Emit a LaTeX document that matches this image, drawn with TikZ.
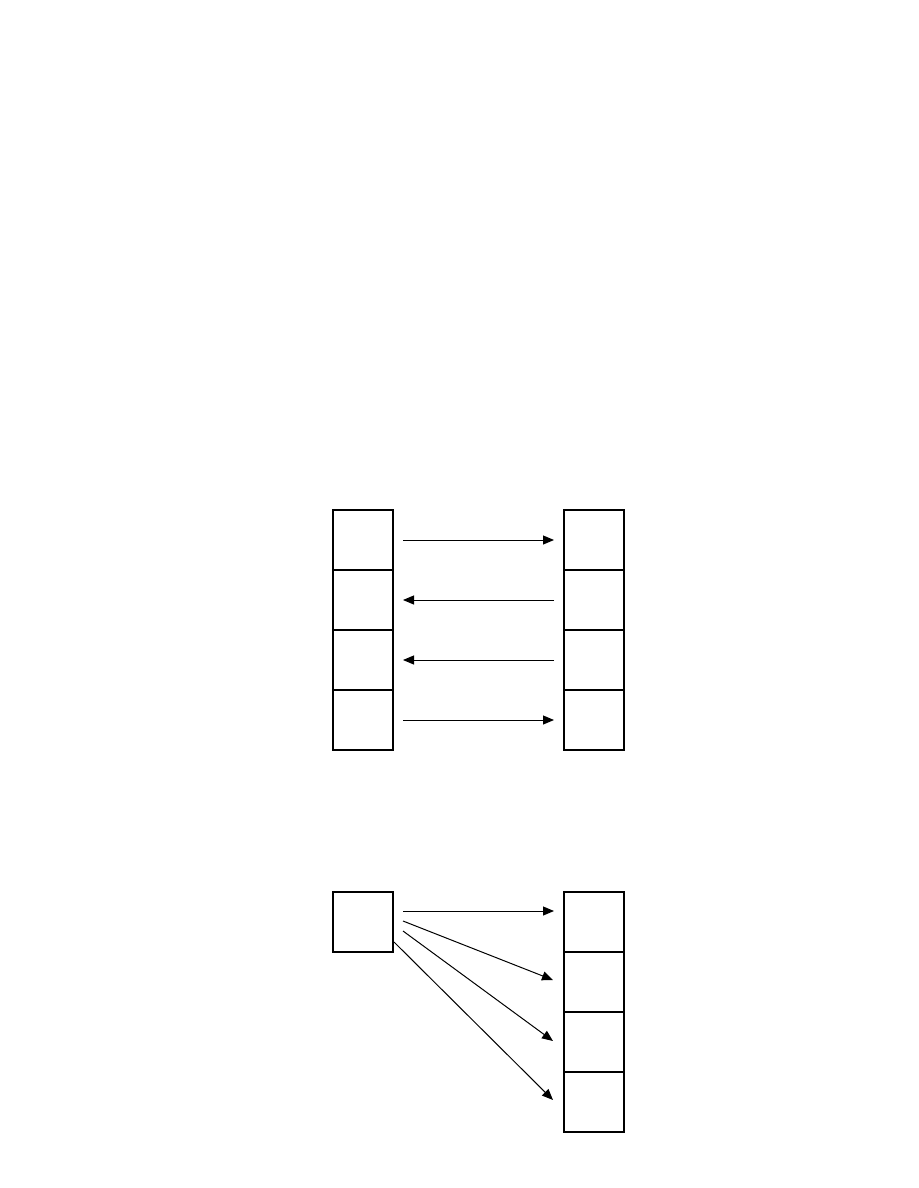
\documentclass[tikz,border=0pt]{standalone}
\usetikzlibrary{arrows.meta}
\begin{document}
\begin{tikzpicture}[x=1pt,y=-1pt,
  cell/.style={draw=black,line width=1.8pt,minimum width=60pt,minimum height=60pt,inner sep=0pt,outer sep=0pt},
  arr/.style={draw=black,line width=1pt,-{Triangle[length=11pt,width=9pt]}}]
\useasboundingbox (0,0) rectangle (918,1188);
% top group
\node[cell] (L1) at (363,540) {};
\node[cell] (L2) at (363,600) {};
\node[cell] (L3) at (363,660) {};
\node[cell] (L4) at (363,720) {};
\node[cell] (R1) at (594,540) {};
\node[cell] (R2) at (594,600) {};
\node[cell] (R3) at (594,660) {};
\node[cell] (R4) at (594,720) {};
\draw[arr] ([xshift=10pt]L1.east) -- ([xshift=-10pt]R1.west);
\draw[arr] ([xshift=-10pt]R2.west) -- ([xshift=10pt]L2.east);
\draw[arr] ([xshift=-10pt]R3.west) -- ([xshift=10pt]L3.east);
\draw[arr] ([xshift=10pt]L4.east) -- ([xshift=-10pt]R4.west);
% bottom group
\node[cell] (S) at (363,922) {};
\node[cell] (T1) at (594,922) {};
\node[cell] (T2) at (594,982) {};
\node[cell] (T3) at (594,1042) {};
\node[cell] (T4) at (594,1102) {};
\draw[arr] ([shift={(10,-11)}]S.east) -- ([shift={(-10,-11)}]T1.west);
\draw[arr] ([shift={(10,-1)}]S.east) -- ([shift={(-11,-2)}]T2.west);
\draw[arr] ([shift={(10,9)}]S.east) -- ([shift={(-11,-1)}]T3.west);
\draw[arr] ([shift={(1,-10)}]S.south east) -- ([shift={(-11,-2)}]T4.west);
\end{tikzpicture}
\end{document}
